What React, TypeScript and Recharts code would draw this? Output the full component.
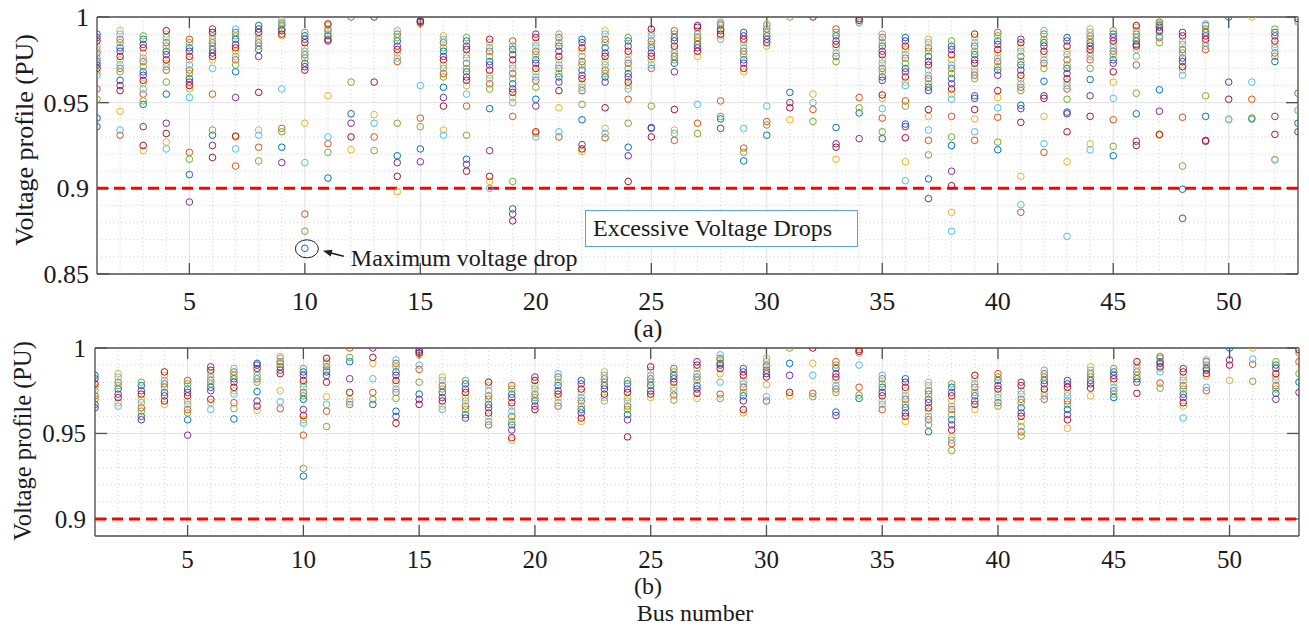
import React from "react";
import { CartesianGrid, ReferenceDot, ReferenceLine, Scatter, ScatterChart, XAxis, YAxis } from "recharts";

// MATLAB default colour order
const COLORS = ["#0072BD", "#D95319", "#EDB120", "#7E2F8E", "#77AC30", "#4DBEEE", "#A2142F"];

const xTicks = [5, 10, 15, 20, 25, 30, 35, 40, 45, 50];
const yTicksA = [0.85, 0.9, 0.95, 1];
const yTicksB = [0.9, 0.95, 1];
const minorYA = [0.86, 0.87, 0.88, 0.89, 0.91, 0.92, 0.93, 0.94, 0.96, 0.97, 0.98, 0.99];
const minorYB = [0.91, 0.92, 0.93, 0.94, 0.96, 0.97, 0.98, 0.99];
const buses = Array.from({ length: 53 }, (_, i) => i + 1);
const minorX = buses.filter((b) => b % 5 !== 0);

// (a) voltage profile per bus, index 0 = bus 1
const voltsA: number[][] = [
  [0.99, 0.988, 0.986, 0.983, 0.981, 0.979, 0.976, 0.974, 0.972, 0.97, 0.968, 0.966, 0.958, 0.952, 0.941, 0.936],
  [0.992, 0.99, 0.987, 0.985, 0.982, 0.98, 0.977, 0.975, 0.972, 0.97, 0.968, 0.963, 0.96, 0.957, 0.945, 0.934, 0.931],
  [0.989, 0.987, 0.984, 0.982, 0.979, 0.976, 0.974, 0.971, 0.968, 0.966, 0.963, 0.961, 0.958, 0.955, 0.951, 0.949, 0.936, 0.925, 0.922],
  [0.992, 0.99, 0.988, 0.985, 0.983, 0.98, 0.978, 0.975, 0.973, 0.971, 0.969, 0.962, 0.955, 0.938, 0.932, 0.927, 0.923],
  [0.987, 0.985, 0.982, 0.98, 0.977, 0.975, 0.972, 0.969, 0.967, 0.964, 0.962, 0.96, 0.958, 0.953, 0.921, 0.917, 0.908, 0.892],
  [0.993, 0.991, 0.989, 0.987, 0.985, 0.983, 0.981, 0.979, 0.977, 0.975, 0.97, 0.955, 0.934, 0.931, 0.925, 0.918],
  [0.993, 0.991, 0.989, 0.987, 0.984, 0.982, 0.98, 0.977, 0.975, 0.972, 0.968, 0.953, 0.9305, 0.93, 0.923, 0.913],
  [0.995, 0.993, 0.991, 0.989, 0.987, 0.985, 0.983, 0.981, 0.977, 0.956, 0.934, 0.931, 0.924, 0.916],
  [0.998, 0.997, 0.996, 0.995, 0.993, 0.992, 0.99, 0.989, 0.958, 0.935, 0.933, 0.924, 0.915],
  [0.991, 0.989, 0.987, 0.985, 0.982, 0.98, 0.978, 0.976, 0.973, 0.971, 0.969, 0.938, 0.915, 0.885, 0.875, 0.865],
  [0.996, 0.995, 0.993, 0.992, 0.99, 0.989, 0.987, 0.986, 0.954, 0.93, 0.926, 0.921, 0.906],
  [1.0, 0.962, 0.9435, 0.938, 0.93, 0.9225],
  [1.0, 0.962, 0.943, 0.938, 0.93, 0.922],
  [0.992, 0.99, 0.988, 0.986, 0.983, 0.981, 0.979, 0.976, 0.974, 0.938, 0.919, 0.915, 0.907, 0.898],
  [0.998, 0.9975, 0.997, 0.996, 0.96, 0.941, 0.936, 0.923, 0.9155],
  [0.989, 0.987, 0.985, 0.982, 0.98, 0.977, 0.975, 0.972, 0.97, 0.967, 0.965, 0.959, 0.953, 0.948, 0.934, 0.931],
  [0.988, 0.986, 0.983, 0.981, 0.978, 0.976, 0.973, 0.97, 0.968, 0.965, 0.963, 0.96, 0.955, 0.948, 0.931, 0.917, 0.914, 0.91],
  [0.987, 0.985, 0.982, 0.98, 0.977, 0.974, 0.972, 0.969, 0.966, 0.964, 0.961, 0.958, 0.9465, 0.922, 0.907, 0.904, 0.9],
  [0.986, 0.983, 0.981, 0.978, 0.975, 0.972, 0.97, 0.967, 0.964, 0.961, 0.958, 0.956, 0.953, 0.95, 0.942, 0.904, 0.888, 0.885, 0.881],
  [0.99, 0.988, 0.985, 0.983, 0.98, 0.978, 0.975, 0.973, 0.97, 0.968, 0.965, 0.963, 0.959, 0.952, 0.948, 0.933, 0.932, 0.93],
  [0.99, 0.988, 0.985, 0.983, 0.98, 0.977, 0.975, 0.972, 0.97, 0.967, 0.965, 0.962, 0.957, 0.947, 0.933, 0.93],
  [0.987, 0.985, 0.982, 0.98, 0.977, 0.974, 0.972, 0.969, 0.966, 0.964, 0.961, 0.959, 0.957, 0.949, 0.94, 0.9255, 0.923, 0.9215],
  [0.992, 0.99, 0.987, 0.985, 0.982, 0.979, 0.977, 0.974, 0.972, 0.969, 0.967, 0.965, 0.962, 0.947, 0.935, 0.932, 0.9295],
  [0.988, 0.986, 0.983, 0.98, 0.978, 0.975, 0.973, 0.97, 0.967, 0.965, 0.962, 0.96, 0.958, 0.952, 0.938, 0.924, 0.919, 0.904],
  [0.993, 0.991, 0.989, 0.986, 0.984, 0.982, 0.979, 0.977, 0.975, 0.972, 0.97, 0.948, 0.9355, 0.935, 0.93],
  [0.992, 0.99, 0.988, 0.986, 0.983, 0.981, 0.979, 0.977, 0.975, 0.973, 0.968, 0.946, 0.934, 0.932, 0.928],
  [0.995, 0.994, 0.992, 0.99, 0.988, 0.986, 0.984, 0.982, 0.98, 0.977, 0.949, 0.938, 0.932],
  [0.997, 0.996, 0.995, 0.993, 0.992, 0.99, 0.989, 0.987, 0.951, 0.942, 0.9405, 0.935],
  [0.991, 0.989, 0.987, 0.985, 0.982, 0.98, 0.978, 0.975, 0.973, 0.97, 0.968, 0.935, 0.9235, 0.921, 0.916],
  [0.996, 0.995, 0.993, 0.991, 0.989, 0.987, 0.985, 0.983, 0.948, 0.939, 0.937, 0.931],
  [1.0, 0.956, 0.95, 0.947, 0.94],
  [1.0, 0.955, 0.95, 0.946, 0.939],
  [0.993, 0.991, 0.989, 0.986, 0.984, 0.982, 0.979, 0.977, 0.974, 0.9355, 0.926, 0.924, 0.917],
  [0.999, 0.998, 0.997, 0.9965, 0.953, 0.947, 0.944, 0.929],
  [0.99, 0.988, 0.985, 0.983, 0.98, 0.978, 0.975, 0.973, 0.97, 0.968, 0.965, 0.963, 0.9545, 0.9525, 0.9465, 0.941, 0.933, 0.929],
  [0.988, 0.986, 0.983, 0.981, 0.978, 0.976, 0.973, 0.97, 0.968, 0.965, 0.962, 0.96, 0.951, 0.948, 0.9375, 0.936, 0.9295, 0.9155, 0.9045],
  [0.987, 0.985, 0.982, 0.98, 0.977, 0.974, 0.972, 0.969, 0.966, 0.964, 0.961, 0.959, 0.957, 0.946, 0.942, 0.934, 0.928, 0.9195, 0.9055, 0.894],
  [0.986, 0.983, 0.981, 0.978, 0.975, 0.972, 0.97, 0.967, 0.964, 0.961, 0.958, 0.955, 0.952, 0.942, 0.93, 0.925, 0.91, 0.9015, 0.886, 0.875],
  [0.99, 0.988, 0.985, 0.983, 0.98, 0.978, 0.975, 0.973, 0.97, 0.968, 0.966, 0.964, 0.954, 0.9525, 0.946, 0.9405, 0.933, 0.928],
  [0.991, 0.989, 0.986, 0.984, 0.981, 0.979, 0.976, 0.974, 0.971, 0.969, 0.966, 0.957, 0.953, 0.947, 0.9415, 0.927, 0.9225],
  [0.987, 0.985, 0.982, 0.98, 0.977, 0.974, 0.972, 0.969, 0.966, 0.964, 0.961, 0.959, 0.957, 0.9485, 0.9465, 0.9385, 0.907, 0.8905, 0.886],
  [0.992, 0.99, 0.987, 0.985, 0.983, 0.98, 0.978, 0.975, 0.973, 0.97, 0.9625, 0.954, 0.9525, 0.942, 0.926, 0.921],
  [0.988, 0.986, 0.983, 0.98, 0.978, 0.975, 0.972, 0.97, 0.967, 0.964, 0.962, 0.96, 0.958, 0.952, 0.9445, 0.9435, 0.933, 0.9155, 0.872],
  [0.993, 0.991, 0.989, 0.987, 0.985, 0.983, 0.981, 0.979, 0.977, 0.975, 0.97, 0.9635, 0.954, 0.942, 0.926, 0.9225],
  [0.992, 0.99, 0.988, 0.986, 0.984, 0.982, 0.98, 0.978, 0.975, 0.973, 0.968, 0.962, 0.9525, 0.94, 0.9245, 0.919],
  [0.995, 0.994, 0.992, 0.99, 0.988, 0.986, 0.984, 0.983, 0.981, 0.977, 0.972, 0.9555, 0.9435, 0.9275, 0.925],
  [0.997, 0.996, 0.995, 0.994, 0.992, 0.991, 0.989, 0.988, 0.985, 0.9575, 0.945, 0.9315, 0.931],
  [0.991, 0.989, 0.986, 0.984, 0.981, 0.979, 0.976, 0.974, 0.971, 0.969, 0.966, 0.9415, 0.913, 0.8995, 0.8825],
  [0.996, 0.995, 0.993, 0.991, 0.989, 0.987, 0.985, 0.983, 0.981, 0.954, 0.942, 0.928, 0.9275],
  [1.0, 0.962, 0.952, 0.9405, 0.94],
  [1.0, 0.962, 0.952, 0.941, 0.9405],
  [0.993, 0.991, 0.989, 0.986, 0.984, 0.982, 0.979, 0.977, 0.974, 0.942, 0.9315, 0.917, 0.9165],
  [0.999, 0.998, 0.997, 0.9555, 0.9455, 0.938, 0.933],
];

// (b) voltage profile per bus, index 0 = bus 1
const voltsB: number[][] = [
  [0.984, 0.982, 0.979, 0.977, 0.975, 0.972, 0.97, 0.967, 0.965],
  [0.985, 0.983, 0.98, 0.978, 0.976, 0.973, 0.971, 0.968, 0.966],
  [0.98, 0.978, 0.975, 0.973, 0.97, 0.968, 0.965, 0.963, 0.96, 0.958],
  [0.986, 0.984, 0.981, 0.979, 0.977, 0.974, 0.972, 0.969, 0.967],
  [0.981, 0.979, 0.976, 0.974, 0.972, 0.969, 0.967, 0.964, 0.962, 0.958, 0.949],
  [0.989, 0.987, 0.985, 0.983, 0.981, 0.979, 0.977, 0.975, 0.97, 0.968, 0.964],
  [0.988, 0.986, 0.984, 0.982, 0.98, 0.977, 0.975, 0.973, 0.968, 0.9645, 0.9585],
  [0.991, 0.99, 0.988, 0.986, 0.984, 0.982, 0.98, 0.9745, 0.969, 0.966, 0.9635],
  [0.995, 0.994, 0.992, 0.991, 0.989, 0.987, 0.985, 0.975, 0.9685, 0.9645],
  [0.988, 0.986, 0.984, 0.981, 0.979, 0.977, 0.974, 0.972, 0.97, 0.964, 0.9605, 0.958, 0.956, 0.949, 0.9295, 0.925],
  [0.994, 0.992, 0.991, 0.989, 0.987, 0.986, 0.984, 0.98, 0.9715, 0.967, 0.963, 0.954],
  [1.0, 0.9945, 0.992, 0.982, 0.974, 0.97, 0.9685, 0.967],
  [1.0, 0.9945, 0.991, 0.982, 0.974, 0.97, 0.967],
  [0.993, 0.991, 0.989, 0.986, 0.984, 0.981, 0.979, 0.976, 0.974, 0.9705, 0.963, 0.96, 0.956],
  [0.999, 0.998, 0.997, 0.996, 0.99, 0.9875, 0.98, 0.973, 0.97, 0.967],
  [0.983, 0.981, 0.978, 0.976, 0.974, 0.971, 0.969, 0.966, 0.964],
  [0.981, 0.979, 0.976, 0.974, 0.971, 0.969, 0.966, 0.964, 0.961, 0.959],
  [0.98, 0.978, 0.975, 0.972, 0.97, 0.967, 0.965, 0.962, 0.96, 0.957, 0.955],
  [0.978, 0.976, 0.973, 0.971, 0.968, 0.966, 0.963, 0.96, 0.957, 0.955, 0.952, 0.9475, 0.946],
  [0.983, 0.981, 0.978, 0.976, 0.973, 0.971, 0.969, 0.966, 0.964],
  [0.985, 0.983, 0.98, 0.978, 0.975, 0.973, 0.971, 0.968, 0.966],
  [0.981, 0.979, 0.976, 0.974, 0.971, 0.969, 0.966, 0.964, 0.962, 0.959, 0.957],
  [0.986, 0.984, 0.982, 0.98, 0.978, 0.976, 0.973, 0.971, 0.969],
  [0.981, 0.979, 0.976, 0.974, 0.971, 0.969, 0.966, 0.964, 0.961, 0.958, 0.948],
  [0.989, 0.987, 0.984, 0.982, 0.98, 0.978, 0.975, 0.973, 0.971],
  [0.988, 0.986, 0.984, 0.982, 0.98, 0.977, 0.975, 0.9725, 0.9695],
  [0.992, 0.99, 0.988, 0.985, 0.983, 0.981, 0.978, 0.976, 0.9735, 0.9705],
  [0.996, 0.994, 0.993, 0.991, 0.99, 0.988, 0.985, 0.98, 0.973, 0.9705],
  [0.988, 0.986, 0.984, 0.981, 0.979, 0.977, 0.974, 0.972, 0.969, 0.964, 0.962],
  [0.994, 0.992, 0.99, 0.989, 0.987, 0.985, 0.983, 0.9785, 0.9715, 0.969],
  [1.0, 0.991, 0.984, 0.974, 0.972],
  [1.0, 0.991, 0.984, 0.9735, 0.9715],
  [0.992, 0.99, 0.988, 0.985, 0.983, 0.981, 0.978, 0.976, 0.974, 0.9625, 0.9605],
  [0.999, 0.998, 0.997, 0.99, 0.977, 0.9725, 0.9705],
  [0.984, 0.982, 0.979, 0.977, 0.974, 0.972, 0.969, 0.967, 0.964],
  [0.982, 0.98, 0.977, 0.975, 0.972, 0.97, 0.967, 0.965, 0.962, 0.96, 0.957],
  [0.98, 0.978, 0.975, 0.973, 0.97, 0.968, 0.965, 0.963, 0.96, 0.958, 0.955, 0.951],
  [0.979, 0.977, 0.974, 0.972, 0.969, 0.966, 0.964, 0.961, 0.958, 0.955, 0.952, 0.948, 0.946, 0.944, 0.94],
  [0.984, 0.982, 0.979, 0.977, 0.974, 0.972, 0.969, 0.967, 0.964],
  [0.985, 0.983, 0.981, 0.978, 0.976, 0.973, 0.971, 0.968, 0.966],
  [0.98, 0.978, 0.975, 0.973, 0.97, 0.968, 0.965, 0.962, 0.96, 0.957, 0.954, 0.951, 0.9485],
  [0.987, 0.985, 0.983, 0.981, 0.979, 0.976, 0.974, 0.972, 0.97],
  [0.981, 0.979, 0.977, 0.974, 0.972, 0.969, 0.967, 0.964, 0.961, 0.958, 0.953],
  [0.989, 0.987, 0.985, 0.983, 0.981, 0.979, 0.9765, 0.972],
  [0.988, 0.986, 0.984, 0.982, 0.98, 0.977, 0.975, 0.973, 0.971],
  [0.992, 0.99, 0.988, 0.986, 0.984, 0.982, 0.98, 0.9735],
  [0.995, 0.994, 0.992, 0.991, 0.989, 0.988, 0.986, 0.9795, 0.9765],
  [0.988, 0.986, 0.983, 0.981, 0.978, 0.976, 0.973, 0.971, 0.968, 0.966, 0.959],
  [0.993, 0.992, 0.99, 0.988, 0.987, 0.985, 0.9835, 0.977, 0.975],
  [1.0, 0.993, 0.99, 0.981],
  [1.0, 0.9935, 0.9905, 0.9805],
  [0.992, 0.99, 0.988, 0.985, 0.983, 0.981, 0.978, 0.976, 0.9735, 0.97],
  [0.999, 0.998, 0.997, 0.992, 0.985, 0.98, 0.974],
];

type Pt = { x: number; y: number };

function byColour(groups: number[][]): Pt[][] {
  const out: Pt[][] = COLORS.map(() => []);
  groups.forEach((vals, b) => {
    vals.forEach((v, i) => {
      out[(i * 3 + b * 2) % 7].push({ x: b + 1, y: v });
    });
  });
  return out;
}

const seriesA = byColour(voltsA);
const seriesB = byColour(voltsB);

const FONT = "Liberation Serif, Times New Roman, serif";
const INK = "#1a1a1a";
const BOX = "#4f4f4f";

const ring = (color: string) => (p: any) => (
  <circle cx={p.cx} cy={p.cy} r={3.3} fill="none" stroke={color} strokeWidth={1} />
);

const xTickAt = (baseline: number, size: number) => (p: any) => (
  <text x={p.x} y={baseline} textAnchor="middle" fontFamily={FONT} fontSize={size} fill={INK}>
    {p.payload.value}
  </text>
);

const yTickAt = (right: number, size: number) => (p: any) => (
  <text x={right} y={p.y} dy="0.35em" textAnchor="end" fontFamily={FONT} fontSize={size} fill={INK}>
    {p.payload.value}
  </text>
);

const MaxDropMark = (p: any) => {
  const { cx, cy } = p;
  return (
    <g>
      <ellipse cx={cx + 2} cy={cy + 0.5} rx={11.5} ry={9} fill="none" stroke="#222" strokeWidth={1} />
      <line x1={cx + 26} y1={cy + 4.8} x2={cx + 39} y2={cy + 8} stroke="#222" strokeWidth={1.5} />
      <polygon
        points={`${cx + 18},${cy + 2.5} ${cx + 25.8},${cy + 8.2} ${cx + 27.6},${cy + 1.4}`}
        fill="#222"
      />
      <text x={cx + 46} y={cy + 17.5} fontSize={24} fontFamily={FONT} fill={INK}>
        Maximum voltage drop
      </text>
    </g>
  );
};

function Panel({
  series,
  domain,
  ticks,
  minorY,
  height,
  margin,
  tickBaseline,
  tickRight,
  tickSize,
  children,
}: {
  series: Pt[][];
  domain: [number, number];
  ticks: number[];
  minorY: number[];
  height: number;
  margin: { top: number; right: number; bottom: number; left: number };
  tickBaseline: number;
  tickRight: number;
  tickSize: number;
  children?: React.ReactNode;
}) {
  const [lo, hi] = domain;
  // inner tick lengths: ~11px vertically, ~12px horizontally
  const dy = 0.0064;
  const dx = 0.52;
  return (
    <ScatterChart width={1309} height={height} margin={margin} style={{ fontFamily: FONT }}>
      <CartesianGrid stroke="#e2e2e2" strokeWidth={1} />
      {minorX.map((b) => (
        <ReferenceLine key={"mx" + b} x={b} stroke="#d0d0d0" strokeDasharray="1 3" />
      ))}
      {minorY.map((v) => (
        <ReferenceLine key={"my" + v} y={v} stroke="#d0d0d0" strokeDasharray="1 3" />
      ))}
      <XAxis
        dataKey="x"
        type="number"
        domain={[1, 53]}
        ticks={xTicks}
        allowDataOverflow
        height={40}
        tickLine={false}
        tick={xTickAt(tickBaseline, tickSize)}
        axisLine={{ stroke: BOX, strokeWidth: 1.3 }}
      />
      <YAxis
        dataKey="y"
        type="number"
        domain={domain}
        ticks={ticks}
        allowDataOverflow
        width={90}
        tickLine={false}
        tick={yTickAt(tickRight, tickSize)}
        axisLine={{ stroke: BOX, strokeWidth: 1.3 }}
      />
      {series.map((data, k) => (
        <Scatter key={k} data={data} shape={ring(COLORS[k])} isAnimationActive={false} />
      ))}
      <ReferenceLine y={hi} stroke={BOX} strokeWidth={1.3} />
      <ReferenceLine x={53} stroke={BOX} strokeWidth={1.3} />
      {xTicks.map((t) => (
        <ReferenceLine key={"tb" + t} segment={[{ x: t, y: lo }, { x: t, y: lo + dy }]} stroke={BOX} strokeWidth={1.3} />
      ))}
      {xTicks.map((t) => (
        <ReferenceLine key={"tt" + t} segment={[{ x: t, y: hi }, { x: t, y: hi - dy }]} stroke={BOX} strokeWidth={1.3} />
      ))}
      {ticks.map((t) => (
        <ReferenceLine key={"tl" + t} segment={[{ x: 1, y: t }, { x: 1 + dx, y: t }]} stroke={BOX} strokeWidth={1.3} />
      ))}
      {ticks.map((t) => (
        <ReferenceLine key={"tr" + t} segment={[{ x: 53 - dx, y: t }, { x: 53, y: t }]} stroke={BOX} strokeWidth={1.3} />
      ))}
      <ReferenceLine y={0.9} stroke="#FF0000" strokeWidth={3} strokeDasharray="11 6" />
      {children}
    </ScatterChart>
  );
}

const label = (text: string, left: number, top: number, size: number, rotate = false) => (
  <div
    style={{
      position: "absolute",
      left,
      top,
      transform: `translate(-50%, -50%)${rotate ? " rotate(-90deg)" : ""}`,
      fontFamily: FONT,
      fontSize: size,
      lineHeight: 0.8,
      whiteSpace: "nowrap",
      color: INK,
    }}
  >
    {text}
  </div>
);

export default function App() {
  return (
    <div
      style={{
        position: "absolute",
        left: 0,
        top: 0,
        width: 1309,
        height: 627,
        background: "#fff",
        overflow: "hidden",
        fontFamily: FONT,
      }}
    >
      <div style={{ position: "absolute", left: 0, top: 0 }}>
        <Panel
          series={seriesA}
          domain={[0.85, 1]}
          ticks={yTicksA}
          minorY={minorYA}
          height={330}
          margin={{ top: 17, right: 11, bottom: 16, left: 7 }}
          tickBaseline={310}
          tickRight={89}
          tickSize={26}
        >
          <ReferenceDot x={10} y={0.865} r={0} shape={MaxDropMark} />
        </Panel>
      </div>
      <div style={{ position: "absolute", left: 0, top: 330 }}>
        <Panel
          series={seriesB}
          domain={[0.89, 1]}
          ticks={yTicksB}
          minorY={minorYB}
          height={260}
          margin={{ top: 18, right: 10, bottom: 14, left: 5 }}
          tickBaseline={238}
          tickRight={86}
          tickSize={25}
        />
      </div>
      <div
        style={{
          position: "absolute",
          left: 585,
          top: 210,
          width: 273,
          height: 37,
          boxSizing: "border-box",
          border: "1.5px solid #5aa5dc",
          background: "#fff",
          display: "flex",
          alignItems: "center",
          paddingLeft: 7,
          fontFamily: FONT,
          fontSize: 24,
          color: INK,
          whiteSpace: "nowrap",
        }}
      >
        Excessive Voltage Drops
      </div>
      {label("Voltage profile (PU)", 25, 140, 26, true)}
      {label("Voltage profile (PU)", 23, 441, 24.5, true)}
      {label("(a)", 648, 329, 26)}
      {label("(b)", 648, 587, 24)}
      {label("Bus number", 695, 614, 24)}
    </div>
  );
}
